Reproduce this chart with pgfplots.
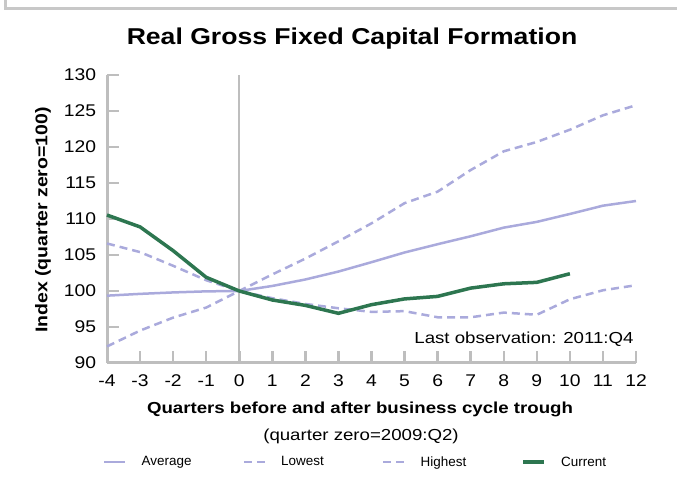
\documentclass[border=0pt]{standalone}
\usepackage{fontspec}
\setmainfont{Liberation Sans}
\usepackage{pgfplots}
\pgfplotsset{compat=1.18}
\definecolor{lav}{HTML}{AAAADC}
\definecolor{curgreen}{HTML}{2D7650}
\definecolor{axgrey}{HTML}{BEBEBE}
\begin{document}
\begin{tikzpicture}[x=1bp,y=1bp]
\useasboundingbox (0,0) rectangle (677,479);
\draw[line width=2.5bp, color=axgrey!85] (5.5,479) -- (5.5,470.5) -- (677,470.5);
\node[font=\bfseries\fontsize{23}{23}\selectfont, xscale=1.16] at (352,440) {Real Gross Fixed Capital Formation};
\node[font=\bfseries\fontsize{16}{16}\selectfont, xscale=1.17] at (360,70) {Quarters before and after business cycle trough};
\node[font=\fontsize{16}{16}\selectfont, xscale=1.17] at (361,43) {(quarter zero=2009:Q2)};
\node[font=\bfseries\fontsize{17}{17}\selectfont, rotate=90, xscale=1.15] at (43,259) {Index (quarter zero=100)};
\begin{axis}[
  at={(107bp,116bp)}, anchor=south west, scale only axis,
  width=529bp, height=288bp,
  xmin=-4, xmax=12, ymin=90, ymax=130,
  xtick={-4,...,12}, ytick={90,95,...,130},
  axis lines=left,
  axis line style={-, draw=axgrey, line width=3bp},
  tick align=inside, major tick length=12bp,
  tick style={draw=axgrey, line width=2.5bp},
  /pgf/number format/assume math mode=true,
  tick label style={font=\fontsize{17}{17}\selectfont, xscale=1.14},
  yticklabel style={xshift=-6bp},
  xticklabel style={yshift=-8bp},
  clip=false,
  legend columns=4,
  legend style={at={(-0.0076,-0.344)}, anchor=west, draw=none, fill=none,
    inner sep=0pt, font=\fontsize{13.5}{13.5}\selectfont,
    nodes={text width=101bp, inner sep=0pt, align=left},
    /tikz/every odd column/.append style={column sep=15bp}},
  legend image code/.code={\draw[#1] (0bp,0bp) -- (21bp,0bp);},
]
\addplot[forget plot, draw=axgrey, line width=2bp] coordinates {(0,90) (0,130)};
\addplot[lav, line width=2.5bp] coordinates {
(-4,99.35) (-3,99.6) (-2,99.8) (-1,99.95) (0,100) (1,100.7) (2,101.6) (3,102.7) (4,104.0) (5,105.35) (6,106.5) (7,107.6) (8,108.8) (9,109.6) (10,110.7) (11,111.85) (12,112.5)};
\addlegendentry{Average}
\addplot[lav, line width=2.5bp, dash pattern=on 8bp off 5bp] coordinates {
(-4,106.6) (-3,105.4) (-2,103.5) (-1,101.5) (0,100) (1,99.0) (2,98.2) (3,97.6) (4,97.1) (5,97.2) (6,96.35) (7,96.35) (8,97.0) (9,96.7) (10,98.85) (11,100.1) (12,100.8)};
\addlegendentry{Lowest}
\addplot[lav, line width=2.5bp, dash pattern=on 8bp off 5bp] coordinates {
(-4,92.3) (-3,94.5) (-2,96.3) (-1,97.7) (0,100) (1,102.3) (2,104.5) (3,106.9) (4,109.4) (5,112.2) (6,113.8) (7,116.8) (8,119.4) (9,120.7) (10,122.4) (11,124.4) (12,125.8)};
\addlegendentry{Highest}
\addplot[curgreen, line width=3.5bp] coordinates {
(-4,110.55) (-3,108.9) (-2,105.6) (-1,101.9) (0,100) (1,98.75) (2,98.0) (3,96.9) (4,98.1) (5,98.9) (6,99.25) (7,100.4) (8,101.0) (9,101.2) (10,102.4)};
\addlegendentry{Current}
\node[anchor=east, font=\fontsize{16}{16}\selectfont, xscale=1.17] at (axis cs:12.05,93.3) {Last observation: 2011:Q4};
\end{axis}
\end{tikzpicture}
\end{document}
